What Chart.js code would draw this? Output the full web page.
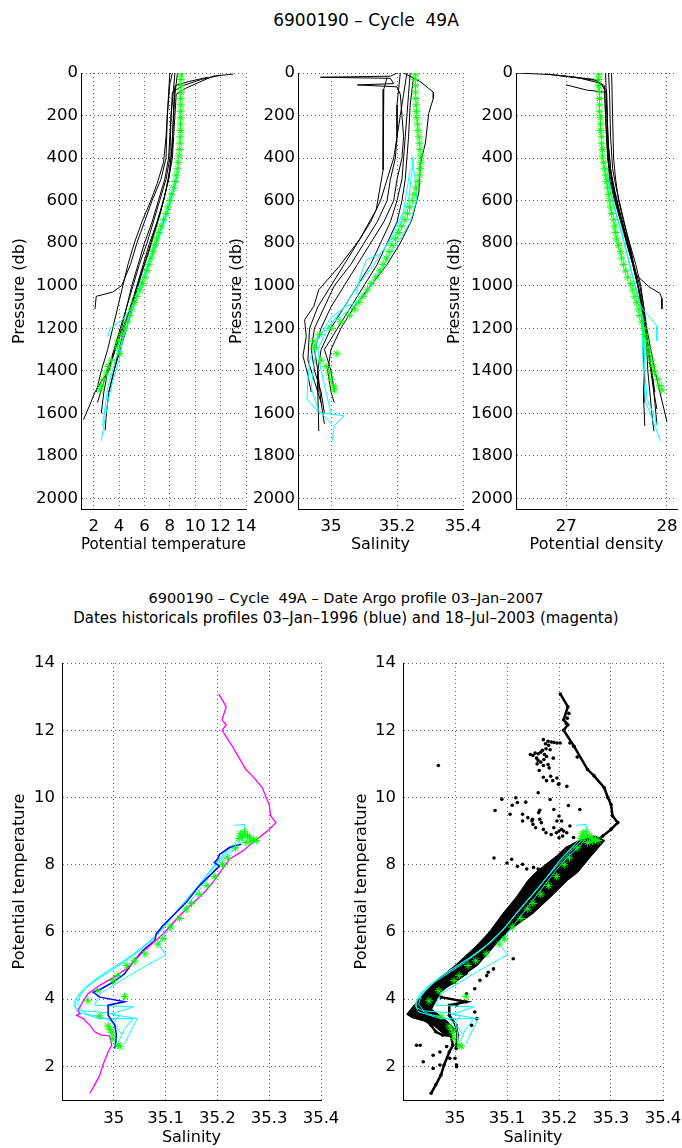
<!DOCTYPE html>
<html>
<head>
<meta charset="utf-8">
<script src="https://cdn.jsdelivr.net/npm/chart.js@4.4.1/dist/chart.umd.min.js"></script>
<style>
  body { margin: 0; background: #fff; width: 682px; height: 1148px; position: relative; overflow: hidden; font-family: "DejaVu Sans", sans-serif; }
  canvas { position: absolute; }
  .ttl { position: absolute; text-align: center; white-space: pre; color: #000; }
</style>
</head>
<body>
<div class="ttl" style="left:166px;width:400px;top:9px;font-size:17px;line-height:22px;">6900190 – Cycle  49A</div>
<div class="ttl" style="left:0;width:692px;top:588px;font-size:14.5px;line-height:20px;">6900190 – Cycle  49A – Date Argo profile 03–Jan–2007</div>
<div class="ttl" style="left:0;width:692px;top:608px;font-size:15px;line-height:20px;">Dates historicals profiles 03–Jan–1996 (blue) and 18–Jul–2003 (magenta)</div>
<script>
/* ── Ticks ── */
const presTicks = [0, 200, 400, 600, 800, 1000, 1200, 1400, 1600, 1800, 2000];
const tempTicks = [2, 4, 6, 8, 10, 12, 14];
const salTicks = [35, 35.2, 35.4];
const densTicks = [27, 28];
const tsSalTicks = [35, 35.1, 35.2, 35.3, 35.4];
const tsTempTicks = [2, 4, 6, 8, 10, 12, 14];

/* ── Profil Argo (étoiles vertes) ── */
const argoPres = [5, 30, 60, 90, 120, 150, 180, 210, 240, 270, 300, 330, 360, 390, 420, 450, 480, 510, 540, 570, 600, 630, 660, 690, 720, 750, 780, 810, 840, 870, 900, 930, 960, 990, 1020, 1050, 1080, 1110, 1140, 1170, 1200, 1230, 1260, 1290, 1320, 1350, 1380, 1410, 1440, 1470, 1490];
const argoTemp = [8.9, 8.88, 8.87, 8.87, 8.86, 8.86, 8.85, 8.85, 8.84, 8.83, 8.82, 8.8, 8.77, 8.72, 8.66, 8.6, 8.5, 8.42, 8.3, 8.15, 8.0, 7.85, 7.7, 7.5, 7.3, 7.12, 6.95, 6.8, 6.65, 6.5, 6.35, 6.2, 6.05, 5.85, 5.65, 5.4, 5.2, 5.0, 4.85, 4.65, 4.45, 4.2, 3.95, 3.85, 4.05, 3.4, 3.15, 3.0, 2.8, 2.6, 2.5];
const argoSal = [35.255, 35.255, 35.256, 35.256, 35.257, 35.258, 35.259, 35.26, 35.262, 35.264, 35.266, 35.268, 35.27, 35.272, 35.272, 35.27, 35.268, 35.264, 35.258, 35.252, 35.246, 35.238, 35.232, 35.224, 35.214, 35.205, 35.195, 35.185, 35.176, 35.167, 35.158, 35.148, 35.136, 35.122, 35.11, 35.097, 35.085, 35.072, 35.055, 35.03, 35.0, 34.965, 34.948, 34.95, 35.018, 34.97, 34.985, 34.995, 35.0, 35.008, 35.01];
const argoDens = [27.32, 27.32, 27.32, 27.33, 27.33, 27.33, 27.33, 27.34, 27.34, 27.34, 27.35, 27.35, 27.36, 27.36, 27.37, 27.38, 27.39, 27.4, 27.41, 27.42, 27.43, 27.44, 27.45, 27.47, 27.48, 27.49, 27.5, 27.52, 27.54, 27.55, 27.57, 27.59, 27.61, 27.64, 27.66, 27.68, 27.7, 27.72, 27.73, 27.75, 27.77, 27.78, 27.8, 27.81, 27.82, 27.84, 27.86, 27.88, 27.91, 27.93, 27.95];

/* ── Profils historiques : [valeur, pression] ── */
const tempHist = [
  [[13.0,5],[11.4,15],[9.3,70],[8.5,100],[8.4,200],[8.3,300],[8.2,400],[7.9,500],[7.5,600],[7.0,700],[6.5,800],[6.0,900],[5.5,1000],[5.0,1100],[4.6,1200],[4.1,1300],[3.6,1400],[3.2,1500]],
  [[12.0,10],[10.5,30],[9.0,60],[8.2,90],[8.1,200],[8.0,400],[7.7,500],[7.2,600],[6.7,700],[6.2,800],[5.6,900],[5.1,1000],[4.6,1100],[4.1,1200],[3.6,1300],[3.1,1400],[2.8,1500],[2.6,1600]],
  [[8.2,0],[8.0,50],[7.8,200],[7.7,400],[7.3,500],[6.6,600],[6.0,700],[5.4,800],[4.9,900],[4.2,1000],[3.5,1030],[2.2,1050],[2.1,1110]],
  [[8.0,0],[7.9,100],[7.7,300],[7.5,420],[7.0,520],[6.5,600],[5.8,700],[5.2,800],[4.7,900],[4.3,1000],[3.9,1100],[3.5,1200],[3.1,1300],[2.6,1400],[2.2,1500]],
  [[8.6,0],[8.4,100],[8.2,300],[8.1,400],[7.9,500],[7.5,600],[7.0,700],[6.4,800],[5.9,900],[5.4,1000],[4.9,1100],[4.4,1200],[4.0,1300],[3.6,1400],[3.2,1500],[3.0,1600],[2.9,1680]],
  [[11.0,20],[9.5,40],[8.4,60],[8.3,150],[8.2,350],[8.0,450],[7.7,550],[7.3,650],[6.8,750],[6.3,850],[5.7,950],[5.2,1050],[4.6,1150],[4.0,1250],[3.4,1350],[2.8,1450],[2.3,1550]],
  [[8.4,0],[8.1,200],[7.9,400],[7.6,500],[7.1,600],[6.6,700],[6.0,800],[5.5,900],[5.0,1000],[4.6,1100],[4.2,1200],[3.7,1300],[3.2,1400],[2.6,1450],[2.1,1500],[1.7,1560],[1.2,1630]]
];
const tempClim = [
  [[8.7,460],[8.0,620],[7.0,800],[5.9,980],[5.0,1100],[4.3,1160],[3.3,1200],[3.1,1240]],
  [[8.6,480],[7.9,640],[6.9,820],[5.7,1000],[4.8,1150],[4.3,1250],[4.0,1350],[3.5,1450],[3.1,1550],[2.6,1730]],
  [[8.5,500],[7.7,660],[6.7,830],[5.6,1000],[4.6,1200],[3.7,1350],[3.1,1480],[2.7,1660]]
];
const salHist = [
  [[35.22,0],[35.27,40],[35.31,90],[35.31,120],[35.296,190],[35.286,330],[35.271,424],[35.266,565],[35.245,690],[35.21,800],[35.17,900],[35.12,1000],[35.07,1100],[35.03,1200],[35.0,1300],[34.99,1400],[35.0,1500],[35.01,1550]],
  [[35.17,20],[35.16,76],[35.158,200],[35.158,455],[35.137,643],[35.086,784],[35.025,909],[34.963,1019],[34.948,1097],[34.92,1160],[34.925,1240],[34.915,1330],[34.93,1420],[34.94,1500]],
  [[35.2,0],[35.18,15],[34.968,20],[35.18,25],[35.19,50],[35.08,56],[35.2,65],[35.21,100],[35.215,200],[35.22,300],[35.215,400],[35.2,500],[35.19,600],[35.16,700],[35.12,800],[35.08,900],[35.04,1000],[35.0,1100],[34.97,1200],[34.95,1300],[34.96,1400],[34.96,1500],[34.963,1684]],
  [[35.23,0],[35.22,100],[35.21,200],[35.2,300],[35.195,400],[35.18,500],[35.17,600],[35.14,700],[35.1,800],[35.06,900],[35.01,1000],[34.98,1100],[34.95,1200],[34.94,1300],[34.95,1400],[34.97,1500],[34.98,1600]],
  [[35.24,0],[35.235,100],[35.23,200],[35.225,300],[35.22,400],[35.215,500],[35.2,600],[35.18,700],[35.15,800],[35.12,900],[35.08,1000],[35.04,1100],[35.0,1200],[34.97,1300],[34.96,1400],[34.97,1550]],
  [[35.21,0],[35.2,150],[35.2,300],[35.19,400],[35.17,500],[35.15,600],[35.12,700],[35.08,800],[35.04,900],[35.0,1000],[34.96,1100],[34.935,1200],[34.93,1350],[34.95,1450],[34.97,1550],[34.98,1650]],
  [[35.25,20],[35.24,150],[35.235,300],[35.23,400],[35.225,500],[35.215,600],[35.2,700],[35.17,800],[35.14,900],[35.1,1000],[35.06,1100],[35.02,1200],[34.98,1300],[35.0,1400],[35.01,1500]]
];
const salClim = [
  [[35.245,390],[35.255,500],[35.26,596],[35.24,700],[35.215,768],[35.18,850],[35.14,950],[35.1,1050],[35.05,1120],[35.0,1180],[34.963,1237],[34.935,1350],[34.93,1450],[34.927,1534],[34.963,1596],[35.04,1612],[35.01,1659],[35.004,1730]],
  [[35.25,400],[35.235,600],[35.2,750],[35.15,850],[35.107,878],[35.09,950],[35.076,1035],[35.09,1070],[35.045,1097],[35.0,1150],[34.96,1250],[34.95,1350],[34.94,1480],[34.96,1580],[35.0,1650]],
  [[35.24,450],[35.22,650],[35.18,780],[35.13,900],[35.08,1000],[35.04,1100],[34.99,1200],[34.96,1300],[34.97,1400],[34.985,1500],[35.0,1600]]
];
const densHist = [
  [[26.51,0],[26.83,7],[27.28,30],[27.38,60],[27.39,200],[27.41,400],[27.44,500],[27.49,600],[27.55,700],[27.6,800],[27.66,900],[27.71,1000],[27.76,1100],[27.79,1200],[27.82,1300],[27.85,1400],[27.88,1500]],
  [[26.8,5],[27.1,20],[27.35,50],[27.4,100],[27.41,300],[27.44,450],[27.48,550],[27.53,650],[27.58,750],[27.64,850],[27.69,950],[27.74,1050],[27.77,1150],[27.8,1250],[27.83,1350],[27.86,1450],[27.88,1550],[27.9,1650]],
  [[27.42,0],[27.43,100],[27.44,300],[27.46,450],[27.5,550],[27.55,650],[27.6,750],[27.65,850],[27.68,943],[27.82,1005],[27.93,1036],[27.95,1060],[27.95,1110]],
  [[27.39,0],[27.4,150],[27.42,350],[27.45,500],[27.49,600],[27.55,700],[27.61,800],[27.67,900],[27.73,1000],[27.77,1100],[27.8,1200],[27.84,1300],[27.88,1400],[27.93,1500],[27.98,1600],[28.0,1640]],
  [[27.45,0],[27.46,200],[27.47,400],[27.49,500],[27.52,600],[27.57,700],[27.63,800],[27.69,900],[27.74,1000],[27.77,1100],[27.79,1200],[27.8,1300],[27.81,1400],[27.83,1500],[27.85,1600],[27.87,1684]],
  [[26.9,10],[27.3,35],[27.4,80],[27.41,250],[27.42,420],[27.46,520],[27.51,620],[27.57,720],[27.63,820],[27.68,920],[27.72,1020],[27.75,1120],[27.76,1250],[27.77,1400],[27.77,1550],[27.78,1660]],
  [[27.0,56],[27.2,80],[27.38,90],[27.4,300],[27.43,500],[27.48,600],[27.54,700],[27.6,800],[27.66,900],[27.71,1000],[27.75,1100],[27.78,1200],[27.81,1300],[27.84,1400],[27.87,1500],[27.9,1580]]
];
const densClim = [
  [[27.4,450],[27.46,600],[27.55,750],[27.63,900],[27.7,1030],[27.74,1100],[27.85,1160],[27.9,1190],[27.9,1260]],
  [[27.4,480],[27.47,620],[27.56,770],[27.64,920],[27.71,1050],[27.76,1150],[27.76,1300],[27.77,1450],[27.79,1550],[27.85,1620],[27.935,1730]],
  [[27.41,500],[27.48,640],[27.57,790],[27.65,940],[27.72,1060],[27.77,1200],[27.78,1400],[27.8,1530],[27.88,1620],[27.9,1660]]
];

/* ── Diagrammes T-S : [salinité, température] ── */
const tsArgo = [[35.252,8.98],[35.245,8.92],[35.258,8.88],[35.248,8.84],[35.262,8.8],[35.27,8.76],[35.265,8.7],[35.255,8.66],[35.275,8.72],[35.242,8.78],[35.235,8.5],[35.22,8.2],[35.21,8.0],[35.195,7.65],[35.18,7.38],[35.165,7.12],[35.15,6.85],[35.14,6.68],[35.127,6.4],[35.11,6.15],[35.095,5.8],[35.085,5.64],[35.06,5.35],[35.04,5.14],[35.025,5.0],[35.008,4.7],[34.998,4.55],[34.969,4.25],[34.95,3.95],[35.021,4.08],[34.973,3.5],[34.989,3.2],[34.993,3.1],[34.996,3.0],[34.998,2.83],[35.008,2.63],[35.012,2.6]];
const tsClim = [
  [[35.233,9.17],[35.252,9.2],[35.255,8.85],[35.24,8.55],[35.215,8.2],[35.195,7.85],[35.175,7.45],[35.155,7.05],[35.135,6.65],[35.115,6.25],[35.095,5.85],[35.085,5.65],[35.101,5.32],[35.04,4.8],[34.973,4.16],[34.963,3.82],[35.037,3.77],[34.995,3.55],[35.045,3.42],[35.021,2.68]],
  [[35.25,8.95],[35.225,8.5],[35.2,8.1],[35.18,7.7],[35.16,7.3],[35.135,6.85],[35.11,6.4],[35.085,5.95],[35.06,5.6],[35.03,5.25],[35.0,4.95],[34.97,4.65],[34.945,4.35],[34.93,4.05],[34.923,3.82],[34.93,3.62],[34.973,3.42],[35.037,3.42],[35.02,3.1],[35.01,2.75]],
  [[35.245,8.75],[35.22,8.35],[35.195,7.95],[35.17,7.5],[35.145,7.05],[35.12,6.6],[35.1,6.2],[35.075,5.8],[35.05,5.45],[35.02,5.1],[34.99,4.8],[34.96,4.5],[34.935,4.2],[34.925,3.95],[34.926,3.75],[34.95,3.55],[34.98,3.45],[35.0,3.3],[35.005,3.0],[35.005,2.7]],
  [[35.23,8.6],[35.205,8.2],[35.185,7.8],[35.165,7.4],[35.14,6.95],[35.118,6.55],[35.095,6.1],[35.07,5.7],[35.04,5.35],[35.005,5.0],[34.975,4.7],[34.95,4.4],[34.935,4.1],[34.93,3.85],[34.94,3.65],[34.985,3.6],[35.01,3.5],[35.0,3.3],[35.015,2.95]]
];
const tsBlue = [[35.246,8.61],[35.223,8.51],[35.204,8.3],[35.2,8.16],[35.194,8.06],[35.204,7.96],[35.19,7.75],[35.178,7.57],[35.165,7.37],[35.14,6.88],[35.114,6.48],[35.095,6.19],[35.082,5.94],[35.079,5.74],[35.056,5.45],[35.037,5.1],[35.021,4.76],[34.999,4.51],[34.976,4.31],[34.96,4.21],[34.973,4.06],[35.021,3.92],[34.989,3.82],[34.989,3.52],[35.002,3.22],[35.005,2.93],[35.002,2.53]];
const tsMagenta = [[35.2025,13.08],[35.217,12.7],[35.209,12.31],[35.217,12.16],[35.209,12.0],[35.229,11.52],[35.255,10.83],[35.267,10.65],[35.287,10.29],[35.294,10.0],[35.3,9.79],[35.303,9.45],[35.313,9.25],[35.3,9.05],[35.284,8.85],[35.268,8.66],[35.249,8.41],[35.223,8.16],[35.191,7.47],[35.175,7.18],[35.127,6.48],[35.095,5.94],[35.056,5.4],[35.024,4.9],[35.005,4.7],[34.973,4.41],[34.95,4.16],[34.94,3.92],[34.931,3.67],[34.935,3.57],[34.928,3.52],[34.941,3.42],[34.954,3.22],[34.963,3.03],[34.976,2.93],[34.992,2.91],[34.996,2.63],[34.989,2.43],[34.979,2.04],[34.973,1.74],[34.963,1.45],[34.954,1.2]];
/* nuage noir dense (contour) et points isolés */
const tsBand = [[35.215,8.55],[35.195,8.26],[35.155,7.77],[35.14,7.53],[35.118,7.04],[35.092,6.55],[35.066,6.0],[35.04,5.57],[35.0,5.0],[34.968,4.6],[34.942,4.2],[34.92,3.8],[34.907,3.55],[34.917,3.45],[34.94,3.35],[34.96,3.2],[34.975,3.0],[34.99,2.9],[35.0,3.1],[34.985,3.35],[34.955,3.7],[34.972,4.2],[35.005,4.6],[35.043,5.0],[35.075,5.57],[35.1,6.0],[35.15,6.55],[35.184,7.04],[35.216,7.53],[35.236,7.77],[35.262,8.26],[35.288,8.72],[35.27,8.85],[35.24,8.75]];
const tsDots = [[34.968,10.95],[35.077,9.61],[35.11,9.77],[35.117,9.99],[35.13,9.5],[35.136,9.86],[35.16,10.14],[35.163,9.62],[35.154,11.32],[35.17,11.72],[35.179,11.67],[35.183,11.42],[35.196,11.62],[35.202,11.62],[35.176,11.22],[35.179,10.98],[35.171,11.13],[35.157,11.17],[35.189,11.17],[35.181,10.88],[35.184,10.63],[35.196,10.58],[35.199,10.39],[35.215,10.33],[35.221,11.62],[35.228,11.52],[35.235,11.2],[35.216,12.36],[35.214,12.2],[35.219,12.5],[35.183,9.94],[35.163,9.35],[35.166,9.25],[35.2,9.45],[35.205,9.3],[35.218,9.76],[35.2,9.0],[35.207,8.85],[35.221,9.15],[35.24,9.64],[35.109,8.16],[35.13,8.01],[35.138,7.87],[35.151,7.92],[35.16,7.87],[35.149,9.35],[35.106,9.5],[35.161,9.55],[35.196,9.3],[35.209,9.0],[35.228,8.81],[35.148,9.3],[35.2,10.41],[35.19,9.64],[35.048,4.56],[35.061,4.7],[35.038,4.31],[35.022,4.16],[35.003,3.82],[35.038,3.62],[35.042,3.42],[35.032,3.22],[35.003,2.04],[34.99,2.24],[34.971,2.43],[34.958,1.94],[34.933,2.63],[35.074,4.9],[35.064,4.8],[35.112,5.2],[34.926,2.63],[34.939,2.14],[34.958,2.33],[34.971,2.04],[34.984,2.59],[35.0,2.24],[35.003,1.99],[34.99,2.93],
  [35.16,11.3],[35.165,11.35],[35.172,11.28],[35.168,11.4],[35.175,11.45],[35.16,11.1],[35.165,11.05],[35.17,10.95],[35.174,11.6],[35.185,11.65],[35.19,11.64],[35.18,11.55],[35.15,11.25],[35.145,11.28],[35.158,11.0],[35.162,10.8],[35.17,10.6],[35.176,10.5],[35.188,10.5],
  [35.15,9.2],[35.155,9.1],[35.17,9.05],[35.175,8.95],[35.185,8.9],[35.19,9.1],[35.13,9.3],[35.14,9.4],[35.12,9.85],[35.09,9.95],[35.075,8.2],[35.1,8.05],[35.12,7.95],[35.195,8.95],[35.205,9.05],[35.215,8.95],[35.2,8.8]];

/* ── Rendu ── */
const FONT = '"DejaVu Sans", sans-serif';
const pts = arr => arr.map(([x, y]) => ({ x, y }));
const onPres = vals => argoPres.map((p, i) => ({ x: vals[i], y: p }));

const lineSet = (arr, color, width) => ({ data: pts(arr), showLine: true, borderColor: color, borderWidth: width, pointRadius: 0, fill: false });
const starSet = data => ({ data, showLine: false, pointStyle: 'star', pointRadius: 4, borderColor: '#00ff00', backgroundColor: '#00ff00', borderWidth: 1 });
const dotSet = (arr, line) => ({ data: pts(arr), showLine: line, borderColor: '#000', borderWidth: line ? 2.5 : 0, pointRadius: 1.8, pointBorderWidth: 0, pointBackgroundColor: '#000', fill: false });

function axis(o) {
  return {
    type: 'linear', position: o.pos, min: o.min, max: o.max, reverse: !!o.reverse,
    afterBuildTicks: s => { s.ticks = o.ticks.map(v => ({ value: v })); },
    afterFit: s => {
      if (o.pos === 'left') s.width = o.size; else s.height = o.size;
      s.paddingLeft = s.paddingRight = s.paddingTop = s.paddingBottom = 0;
    },
    grid: { color: 'rgba(0,0,0,0.6)', lineWidth: 1, drawTicks: false },
    border: { display: true, color: '#000', width: 1, dash: [1, 3] },
    ticks: { color: '#000', padding: o.tickPad, autoSkip: false, maxRotation: 0, font: { family: FONT, size: 16.5 }, callback: v => String(v) },
    title: { display: true, text: o.title, color: '#000', font: { family: FONT, size: 16 }, padding: o.titlePad }
  };
}

function panel(box, xAx, yAx, datasets) {
  const c = document.createElement('canvas');
  c.width = box.w; c.height = box.h;
  c.style.left = box.left + 'px'; c.style.top = box.top + 'px';
  c.style.width = box.w + 'px'; c.style.height = box.h + 'px';
  document.body.appendChild(c);
  new Chart(c, {
    type: 'scatter',
    data: { datasets },
    options: {
      responsive: false, animation: false, events: [],
      layout: { padding: { top: box.padTop, right: box.padRight, left: 0, bottom: 0 } },
      plugins: { legend: { display: false }, tooltip: { enabled: false } },
      scales: { x: axis(xAx), y: axis(yAx) }
    }
  });
}

const presAxis = pad => ({ pos: 'left', min: 0, max: 2050, reverse: true, ticks: presTicks, size: 0, tickPad: 3, title: 'Pressure (db)', titlePad: { top: pad, bottom: 0 } });
const topX = (min, max, ticks, title) => ({ pos: 'bottom', min, max, ticks, size: 61, tickPad: 8, title, titlePad: { top: 0, bottom: 16 } });

// Température / pression
panel({ left: 0, top: 50, w: 270, h: 520, padTop: 23, padRight: 24 },
  topX(1, 14, tempTicks, 'Potential temperature'),
  Object.assign(presAxis(10), { size: 81 }),
  [starSet(onPres(argoTemp)), ...tempClim.map(a => lineSet(a, '#00ffff', 1)), ...tempHist.map(a => lineSet(a, '#000', 1))]);

// Salinité / pression
panel({ left: 215, top: 50, w: 290, h: 520, padTop: 23, padRight: 42 },
  topX(34.9, 35.4, salTicks, 'Salinity'),
  Object.assign(presAxis(12), { size: 83 }),
  [starSet(onPres(argoSal)), ...salClim.map(a => lineSet(a, '#00ffff', 1)), ...salHist.map(a => lineSet(a, '#000', 1))]);

// Densité / pression
panel({ left: 432, top: 50, w: 250, h: 520, padTop: 23, padRight: 2 },
  topX(26.5, 28.1, densTicks, 'Potential density'),
  Object.assign(presAxis(13), { size: 84 }),
  [starSet(onPres(argoDens)), ...densClim.map(a => lineSet(a, '#00ffff', 1)), ...densHist.map(a => lineSet(a, '#000', 1))]);

const tsX = { pos: 'bottom', min: 34.9, max: 35.4, ticks: tsSalTicks, size: 48, tickPad: 9, title: 'Salinity', titlePad: { top: 0, bottom: 1 } };
const tsY = (size, pad) => ({ pos: 'left', min: 1, max: 14, ticks: tsTempTicks, size, tickPad: 7, title: 'Potential temperature', titlePad: { top: pad, bottom: 0 } });

// T-S avec profils historiques bleu et magenta
panel({ left: 0, top: 640, w: 350, h: 508, padTop: 23, padRight: 29 }, tsX, tsY(62, 10),
  [starSet(pts(tsArgo)), lineSet(tsMagenta, '#ff00ff', 1.3), lineSet(tsBlue, '#0000ff', 1.5), ...tsClim.map(a => lineSet(a, '#00ffff', 1))]);

// T-S avec tous les historiques (points noirs)
panel({ left: 340, top: 640, w: 342, h: 508, padTop: 23, padRight: 19 }, tsX, tsY(63, 12),
  [starSet(pts(tsArgo)), ...tsClim.map(a => lineSet(a, '#00ffff', 1)),
   dotSet(tsMagenta, true), dotSet(tsBlue, true), dotSet(tsDots, false),
   { data: pts(tsBand), showLine: true, fill: 'shape', backgroundColor: '#000', borderColor: '#000', borderWidth: 1, pointRadius: 0 }]);
</script>
</body>
</html>
